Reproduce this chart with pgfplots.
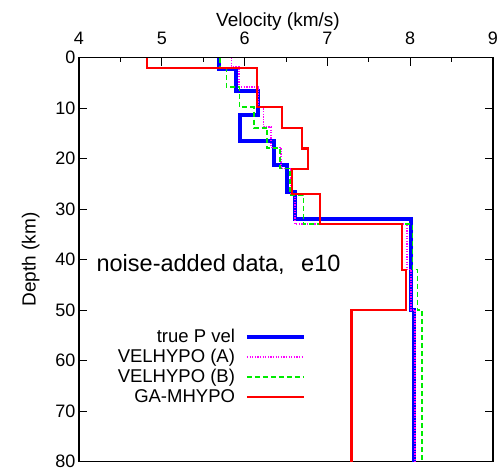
\documentclass[border=0pt]{standalone}
\usepackage{fontspec}
\setmainfont{Liberation Sans}
\usepackage{pgfplots}
\pgfplotsset{compat=1.18}
\definecolor{tblue}{RGB}{0,0,255}
\definecolor{tmag}{RGB}{255,0,255}
\definecolor{tgreen}{RGB}{0,235,0}
\definecolor{tred}{RGB}{255,0,0}
\begin{document}
\begin{tikzpicture}
\begin{axis}[
  scale only axis, width=414pt, height=404pt,
  xmin=4, xmax=9, ymin=0, ymax=80, y dir=reverse,
  xtick={4,5,6,7,8,9}, minor x tick num=1,
  ytick={0,10,...,80},
  xtick pos=upper, xticklabel pos=upper,
  ytick pos=both, yticklabel pos=left,
  tick align=inside,
  major tick length=8pt, minor tick length=4pt,
  every tick/.style={black, line width=1pt},
  axis line style={line width=1.2pt},
  /pgf/number format/assume math mode=true,
  ticklabel style={font=\fontsize{18}{20}\selectfont},
  xticklabel style={yshift=13pt, inner ysep=0pt},
  yticklabel style={inner ysep=1pt},
  xlabel={Velocity (km/s)}, ylabel={Depth (km)},
  label style={font=\fontsize{19}{21}\selectfont},
  xlabel style={xshift=-8pt, yshift=1pt, inner ysep=0pt},
  ylabel shift=9pt,
  legend style={draw=none, fill=none, at={(axis cs:6.78,53)}, anchor=north east,
    font=\fontsize{18.5}{20}\selectfont, row sep=1.2pt, column sep=8pt},
  legend cell align=right, legend plot pos=right,
  legend image code/.code={\draw[#1] plot coordinates {(0pt,0pt) (57pt,0pt)};},
]
\addplot[tblue, line width=4pt, line join=miter] coordinates {
(5.69,0) (5.69,2.2) (5.90,2.2) (5.90,6.6) (6.16,6.6) (6.16,11.4) (5.95,11.4) (5.95,16.5) (6.36,16.5) (6.36,21.2) (6.51,21.2) (6.51,26.6) (6.61,26.6) (6.61,32) (8.01,32) (8.01,50) (8.05,50) (8.05,80)};
\addlegendentry{true P vel}
\addplot[tmag, line width=1.6pt, dash pattern=on 1.3pt off 1.3pt] coordinates {
(5.84,0) (5.84,1.8) (5.93,1.8) (5.93,5.8) (6.16,5.8) (6.16,9.8) (6.23,9.8) (6.23,13.8) (6.32,13.8) (6.32,17.8) (6.44,17.8) (6.44,22) (6.56,22) (6.56,27) (6.61,27) (6.61,33) (7.96,33) (7.96,42) (8.01,42) (8.01,50) (8.06,50) (8.06,80)};
\addlegendentry{VELHYPO (A)}
\addplot[tgreen, line width=1.6pt, dash pattern=on 5pt off 3pt] coordinates {
(5.70,0) (5.70,2.2) (5.78,2.2) (5.78,5.8) (5.94,5.8) (5.94,9.8) (6.11,9.8) (6.11,13.9) (6.27,13.9) (6.27,17.9) (6.43,17.9) (6.43,22) (6.55,22) (6.55,27.2) (6.71,27.2) (6.71,33) (8.03,33) (8.03,42) (8.09,42) (8.09,50) (8.14,50) (8.14,80)};
\addlegendentry{VELHYPO (B)}
\addplot[tred, line width=2.2pt, line join=miter] coordinates {
(4.82,0) (4.82,2) (6.15,2) (6.15,9.8) (6.45,9.8) (6.45,13.9) (6.69,13.9) (6.69,18) (6.77,18) (6.77,22.1) (6.57,22.1) (6.57,27) (6.91,27) (6.91,33) (7.90,33) (7.90,42) (7.95,42) (7.95,50) (7.29,50) (7.29,80)};
\addlegendentry{GA-MHYPO}
\node[anchor=west, font=\fontsize{23.5}{25}\selectfont] at (axis cs:4.17,41) {noise-added data,\hspace{10pt} e10};
\end{axis}
\pgfresetboundingbox
\useasboundingbox ([shift={(-79pt,-8.5pt)}]current axis.south west) rectangle ([shift={(6pt,57.5pt)}]current axis.north east);
\end{tikzpicture}
\end{document}
